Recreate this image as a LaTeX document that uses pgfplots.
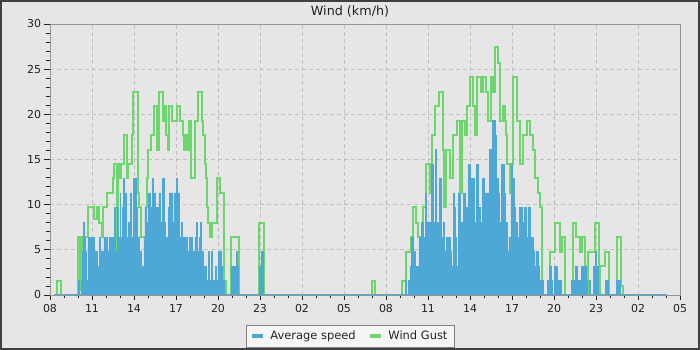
\documentclass[border=0pt]{standalone}
\usepackage{pgfplots}
\pgfplotsset{compat=1.18}
\usepackage{fontspec}
\setmainfont{DejaVu Sans}
\definecolor{bgc}{RGB}{230,230,230}
\definecolor{framec}{RGB}{64,64,64}
\definecolor{gridc}{RGB}{192,192,192}
\definecolor{axc}{RGB}{150,150,150}
\definecolor{avgc}{RGB}{78,168,214}
\definecolor{gustc}{RGB}{110,214,110}
\definecolor{txtc}{RGB}{34,34,34}
\definecolor{legc}{RGB}{245,245,245}
\definecolor{legb}{RGB}{128,128,128}

\pgfplotstableread{
h v
0.3 0
0.52 1.6
0.81 0
2.02 6.4
2.16 0.5
2.3 6.4
2.69 9.7
3.17 8.4
3.33 9.7
3.5 8.0
3.69 6.4
3.81 9.7
4.05 11.3
4.52 12.9
4.6 14.5
4.8 0
4.83 14.5
5.0 12.9
5.1 14.5
5.31 17.7
5.48 12.9
5.6 14.5
5.83 17.7
5.95 22.5
6.26 11.3
6.36 9.7
6.5 6.4
6.85 9.7
6.95 12.9
7.02 16.1
7.2 17.7
7.4 20.9
7.65 16.1
7.8 22.5
8.07 19.3
8.17 20.9
8.28 17.7
8.4 16.1
8.48 20.9
8.7 19.3
9.05 20.9
9.3 19.3
9.5 17.7
9.6 16.1
9.72 17.7
9.85 16.1
9.95 19.3
10.1 12.9
10.36 19.3
10.6 22.5
10.86 19.3
10.95 17.7
11.05 14.5
11.15 12.9
11.22 9.7
11.3 8.0
11.45 6.4
11.58 8.0
11.93 12.9
12.15 11.3
12.45 1.6
12.55 0
12.93 6.4
13.5 0
14.93 8.0
15.29 0
22.98 1.6
23.2 0
25.12 1.6
25.43 4.8
25.75 6.4
25.9 9.7
26.14 8.0
26.31 6.4
26.45 4.8
26.55 8.0
26.67 9.7
26.86 14.5
27.14 11.3
27.26 17.7
27.5 20.9
27.81 22.5
28.05 16.1
28.15 9.7
28.28 16.1
28.57 12.9
28.81 17.7
29.05 19.3
29.29 11.3
29.4 19.3
29.64 17.7
29.76 20.9
30.0 24.1
30.24 20.9
30.35 17.7
30.48 24.1
30.8 22.5
30.95 24.1
31.14 22.5
31.31 19.3
31.48 24.1
31.67 22.5
31.79 27.4
32.02 25.7
32.14 19.3
32.33 20.9
32.5 19.3
32.6 17.7
32.67 14.5
32.86 11.3
32.98 14.5
33.1 24.1
33.38 19.3
33.57 14.5
33.81 17.7
34.05 19.3
34.29 17.7
34.52 16.1
34.65 12.9
34.85 11.3
35.0 9.7
35.12 0
35.7 4.8
36.1 8.0
36.4 4.8
36.55 6.4
36.8 0
37.25 1.6
37.35 8.0
37.6 6.4
37.85 4.8
38.0 6.4
38.2 3.2
38.35 0
38.45 4.8
38.9 8.0
39.2 0
39.3 3.2
39.65 4.8
39.95 0
40.5 6.4
40.8 1.0
40.9 0
44.1 0
}\gust

\pgfplotstableread{
h v
0.3 0
2.0 1.6
2.1 0
2.2 1.6
2.3 4.8
2.4 8.0
2.45 6.4
2.55 4.8
2.62 1.6
2.7 6.4
2.8 4.8
2.9 6.4
3.0 3.2
3.05 6.4
3.15 4.8
3.25 1.6
3.3 4.8
3.4 3.2
3.5 6.4
3.6 4.8
3.7 1.6
3.75 4.8
3.85 6.4
3.95 3.2
4.0 6.4
4.1 4.8
4.15 1.6
4.2 6.4
4.3 3.2
4.35 6.4
4.45 4.8
4.5 6.4
4.6 9.7
4.68 4.8
4.75 3.2
4.8 0
4.83 9.7
4.9 6.4
5.0 11.3
5.05 6.4
5.15 9.7
5.22 12.9
5.3 6.4
5.35 11.3
5.45 3.2
5.5 6.4
5.58 8.0
5.65 4.8
5.72 11.3
5.8 1.6
5.85 6.4
5.95 12.9
6.15 9.7
6.25 3.2
6.3 6.4
6.4 1.6
6.45 4.8
6.55 1.6
6.6 3.2
6.7 6.4
6.78 9.7
6.88 1.6
6.93 8.0
7.0 6.4
7.05 11.3
7.15 4.8
7.2 9.7
7.3 12.9
7.4 6.4
7.45 11.3
7.55 3.2
7.6 9.7
7.7 6.4
7.78 11.3
7.88 4.8
7.92 8.0
8.0 6.4
8.05 12.9
8.15 8.0
8.22 4.8
8.3 6.4
8.38 1.6
8.43 9.7
8.5 11.3
8.75 8.0
8.85 11.3
9.0 12.9
9.12 11.3
9.25 6.4
9.32 1.6
9.37 8.0
9.45 4.8
9.5 1.6
9.55 6.4
9.65 3.2
9.72 6.4
9.8 1.6
9.85 4.8
9.95 6.4
10.0 1.6
10.05 6.4
10.15 3.2
10.22 4.8
10.3 1.6
10.35 6.4
10.45 8.0
10.52 4.8
10.6 3.2
10.65 6.4
10.75 8.0
10.82 3.2
10.9 4.8
10.95 1.6
11.05 3.2
11.15 1.6
11.3 4.8
11.4 1.6
11.5 4.8
11.6 1.6
11.8 3.2
11.9 1.6
12.0 4.8
12.1 1.6
12.15 4.8
12.25 3.2
12.3 1.6
12.45 0
12.95 3.2
13.3 4.8
13.38 3.2
13.48 0
14.95 3.2
15.08 4.8
15.2 0
25.36 1.6
25.48 0
25.6 1.6
25.7 3.2
25.82 6.4
25.95 4.8
26.07 3.2
26.15 1.6
26.25 3.2
26.35 6.4
26.45 4.8
26.55 8.0
26.65 6.4
26.75 3.2
26.8 11.3
26.9 8.0
26.98 1.6
27.05 8.0
27.15 4.8
27.2 6.4
27.26 14.5
27.38 8.0
27.44 3.2
27.5 16.1
27.6 8.0
27.7 4.8
27.75 8.0
27.8 12.9
27.98 6.4
28.05 1.6
28.1 8.0
28.18 3.2
28.25 4.8
28.33 6.4
28.42 1.6
28.47 6.4
28.57 4.8
28.65 3.2
28.75 1.6
28.81 11.3
28.9 9.7
28.98 6.4
29.05 3.2
29.15 11.3
29.3 8.0
29.4 4.8
29.45 8.0
29.55 11.3
29.65 9.7
29.73 3.2
29.78 9.7
29.88 14.5
30.0 12.9
30.12 6.4
30.18 12.9
30.3 8.0
30.38 4.8
30.45 14.5
30.62 9.7
30.7 4.8
30.78 8.0
30.9 12.9
31.05 11.3
31.15 4.8
31.22 11.3
31.35 6.4
31.4 16.1
31.55 8.0
31.62 19.3
31.8 17.7
31.9 12.9
32.0 11.3
32.08 6.4
32.15 8.0
32.25 14.5
32.42 11.3
32.5 6.4
32.6 8.0
32.68 4.8
32.78 6.4
32.85 3.2
32.92 14.5
33.05 12.9
33.15 9.7
33.25 8.0
33.35 4.8
33.42 6.4
33.5 1.6
33.55 9.7
33.7 8.0
33.8 4.8
33.88 9.7
34.0 6.4
34.08 1.6
34.13 9.7
34.3 6.4
34.4 3.2
34.45 6.4
34.52 4.8
34.62 3.2
34.7 4.8
34.85 3.2
34.95 1.6
35.2 0
35.5 1.6
35.65 3.2
35.78 1.6
35.85 0
36.05 3.2
36.2 1.6
36.3 0
36.4 1.6
36.55 0
37.26 1.6
37.5 3.2
37.66 1.6
37.9 0
37.98 3.2
38.33 1.6
38.4 0
38.5 1.6
38.6 0
38.8 3.2
38.93 4.8
39.05 3.2
39.15 0
39.68 1.6
39.88 0
40.45 1.6
40.7 0
44.1 0
}\avg

\begin{document}
\begin{tikzpicture}
\useasboundingbox (0bp,0bp) rectangle (700bp,350bp);
\fill[framec] (0bp,0bp) rectangle (700bp,350bp);
\fill[bgc] (2bp,2bp) rectangle (698bp,348bp);
\node[font=\fontsize{12.8}{14}\selectfont, text=txtc] at (350bp,338bp) {Wind (km/h)};
\begin{axis}[
  at={(50bp,55bp)}, anchor=south west,
  scale only axis, width=630bp, height=271bp,
  xmin=0, xmax=45, ymin=0, ymax=30,
  axis background/.style={fill=bgc},
  xtick={0,3,...,45},
  xticklabels={08,11,14,17,20,23,02,05,08,11,14,17,20,23,02,05},
  ytick={0,5,...,30},
  minor x tick num=2,
  minor y tick num=4,
  tick align=outside, tick pos=left,
  major tick length=5.5bp, minor tick length=3.5bp,
  every tick/.style={txtc, line width=0.8bp},
  axis line style={axc, line width=1bp},
  grid=major,
  major grid style={gridc, dash pattern=on 4bp off 3bp, line width=0.8bp},
  ticklabel style={font=\fontsize{11}{12}\selectfont, text=txtc},
  /pgf/number format/assume math mode=true,
  legend columns=2,
  legend style={at={(0.477,-0.1513)}, anchor=center, fill=legc, draw=legb, line width=0.8bp,
    font=\fontsize{11.5}{13}\selectfont, text=txtc, inner xsep=5bp, inner ysep=4bp,
    /tikz/every odd column/.append style={column sep=6bp},
    /tikz/every even column/.append style={column sep=12bp}},
  legend cell align=left,
]
\addplot[const plot, gustc, line width=2bp, forget plot] table[x=h,y=v] {\gust};
\addplot[const plot, fill=avgc, draw=avgc, line width=0.5bp, forget plot] table[x=h,y=v] {\avg} \closedcycle;
\addplot[avgc, line width=2bp, forget plot] coordinates {(0.3,0) (44.1,0)};
\addlegendimage{legend image code/.code={\fill[avgc] (0bp,-1bp) rectangle (10bp,2bp);}}
\addlegendentry{Average speed}
\addlegendimage{legend image code/.code={\fill[gustc] (0bp,-1bp) rectangle (10bp,2bp);}}
\addlegendentry{Wind Gust}
\end{axis}
\end{tikzpicture}
\end{document}
